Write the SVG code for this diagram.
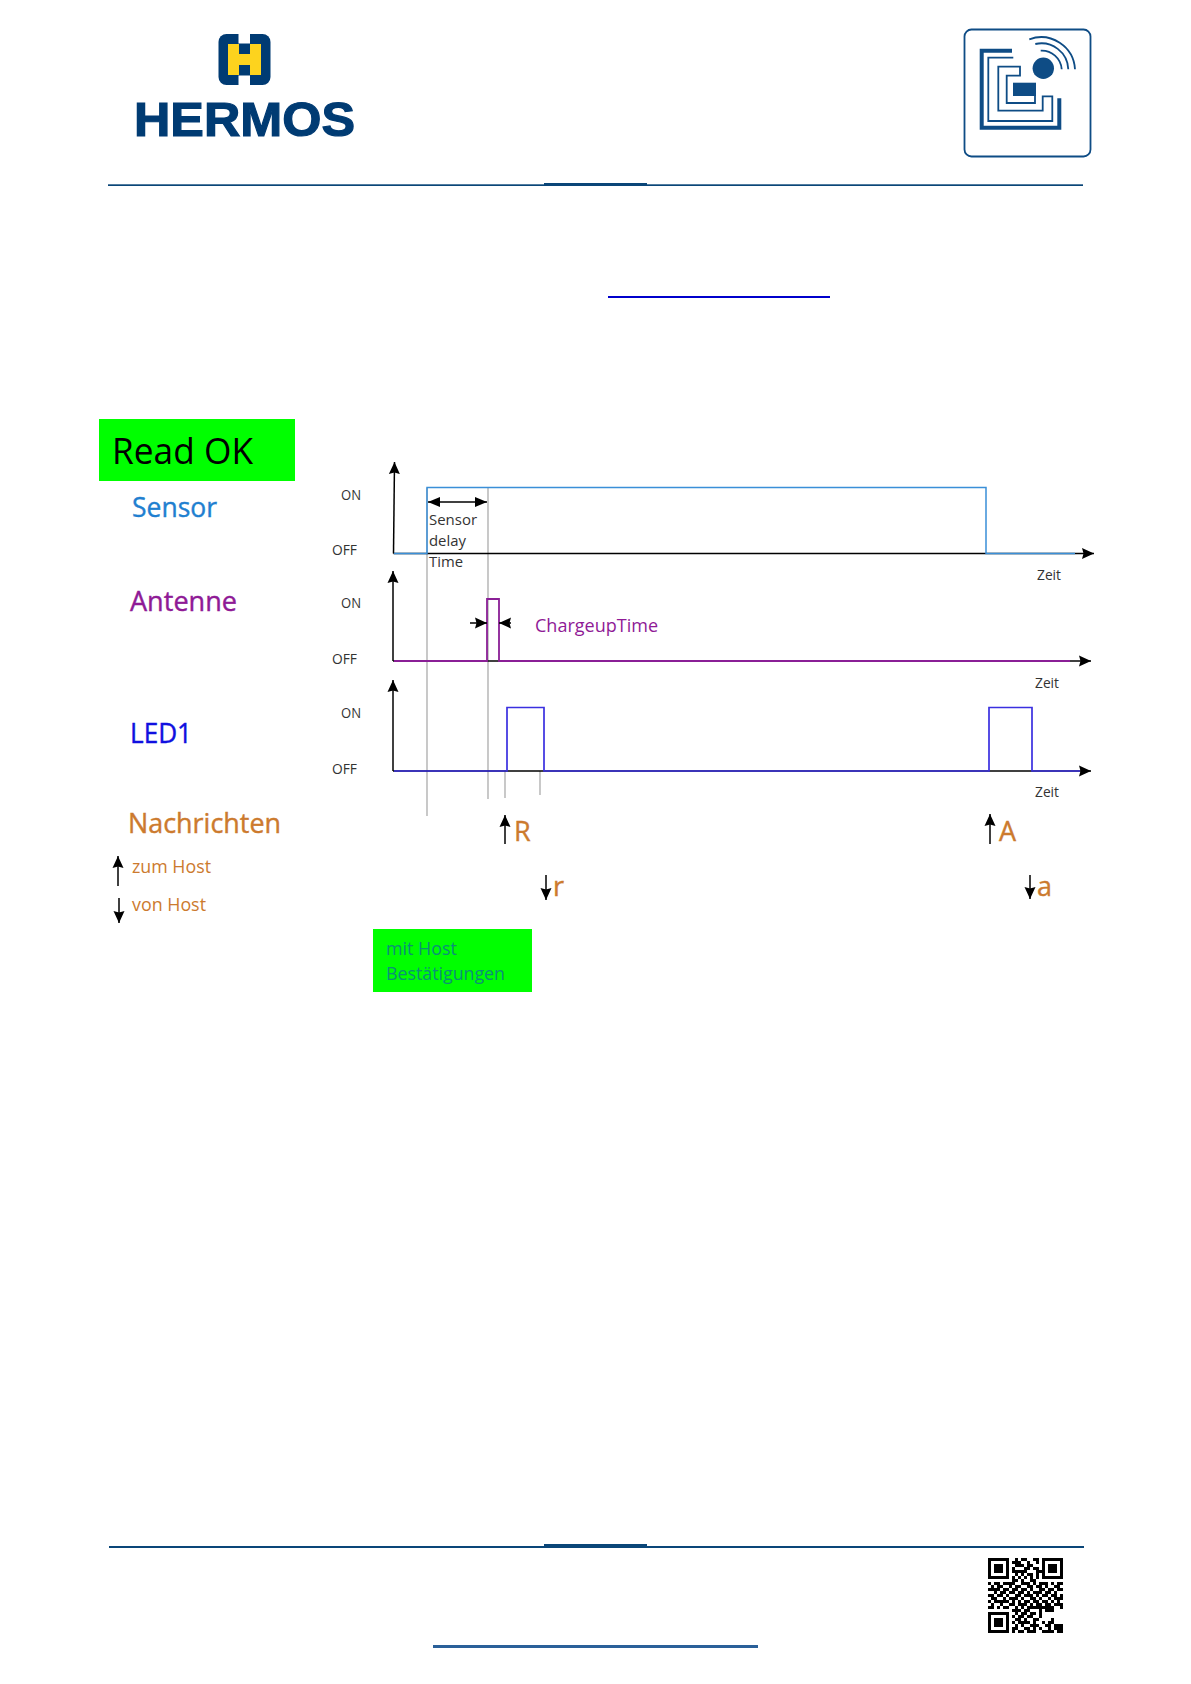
<svg xmlns="http://www.w3.org/2000/svg" width="1191" height="1684" viewBox="0 0 1191 1684">
<defs>
<marker id="ah" markerUnits="userSpaceOnUse" markerWidth="13" markerHeight="12" refX="12" refY="6" orient="auto"><path d="M0 0.500L12 6L0 11.500L1.500 6Z" fill="#000"/></marker>
<marker id="ahs" markerUnits="userSpaceOnUse" markerWidth="13" markerHeight="12" refX="12" refY="6" orient="auto-start-reverse"><path d="M0 1L12 6L0 11Z" fill="#000"/></marker>
</defs>
<style>
text{font-family:"Open Sans","Noto Sans","Liberation Sans",sans-serif}
.sm{font-size:14.500px;fill:#333}
.note{font-size:15px;fill:#333}
.big{font-size:27px;stroke-width:.4;stroke:currentColor}
.or{fill:#cc7a2e;color:#cc7a2e}
.axis{fill:none;stroke:#000;stroke-width:1.500}
.ar{marker-end:url(#ah)}
.gray{stroke:#a5a5a5;stroke-width:1.200;fill:none}
.navy{fill:#003b73}
.icon{fill:none;stroke:#0e4c85}
.rule{fill:#0a4678}
</style>
<rect width="1191" height="1684" fill="#fff"/>

<g id="logo">
<rect x="218.500" y="34" width="52" height="51" rx="8" class="navy"/>
<rect x="238.500" y="34" width="11.500" height="9.500" fill="#fff"/>
<rect x="238.500" y="75.500" width="11.500" height="9.500" fill="#fff"/>
<path d="M228 44H239V54H250V44H261V75H250V65H239V75H228Z" fill="#fdd31e"/>
<text x="134" y="135.500" textLength="221" lengthAdjust="spacingAndGlyphs" style="font-family:'Liberation Sans',sans-serif;font-size:49px;font-weight:700;fill:#003b73;stroke:#003b73;stroke-width:1.200">HERMOS</text>
</g>

<g id="rfid-icon">
<rect x="964.500" y="29.500" width="126" height="127" rx="7" class="icon" stroke-width="1.800"/>
<path d="M1012 50.700H981.700V127.700H1059.300V98.300" class="icon" stroke-width="4"/>
<path d="M1013.300 57.700H988.300V121H1052.300V96.300H1042.700V110.700H998.300V66.700H1020V75.700H1006.700V103H1035V91.700" class="icon" stroke-width="1.800"/>
<rect x="1013" y="82.700" width="23" height="13.300" fill="#0e4c85"/>
<circle cx="1043.300" cy="68.300" r="10.700" fill="#0e4c85"/>
<path d="M1029.300 39.300A34 34 0 0 1 1075 69.300M1035.300 44A27 27 0 0 1 1068.300 69.300M1040.700 50.700A20 20 0 0 1 1061.700 69.300" class="icon" stroke-width="1.800"/>
</g>

<g id="header-rule">
<rect x="108" y="184.300" width="975" height="1.700" class="rule"/>
<rect x="544" y="183" width="103" height="2" class="rule"/>
<rect x="608" y="296" width="222" height="2" fill="#0000cc"/>
</g>

<g id="read-ok">
<rect x="99" y="419" width="196" height="62" fill="#00ff00"/>
<text x="112" y="464" font-size="37" fill="#000" textLength="141" lengthAdjust="spacingAndGlyphs">Read OK</text>
</g>
<g id="label-sensor"><text x="132" y="517" class="big" style="fill:#1f7fd0;color:#1f7fd0" textLength="85" lengthAdjust="spacingAndGlyphs">Sensor</text></g>
<g id="label-antenne"><text x="130" y="611" class="big" style="fill:#8f1a96;color:#8f1a96" textLength="107" lengthAdjust="spacingAndGlyphs">Antenne</text></g>
<g id="label-led1"><text x="130" y="743" class="big" style="fill:#1010e0;color:#1010e0" textLength="62" lengthAdjust="spacingAndGlyphs">LED1</text></g>
<g id="label-nachrichten"><text x="128" y="833" class="big or" textLength="153" lengthAdjust="spacingAndGlyphs">Nachrichten</text></g>
<g id="label-zum-host"><text x="132" y="873" font-size="18" class="or" textLength="79" lengthAdjust="spacingAndGlyphs">zum Host</text></g>
<g id="label-von-host"><text x="132" y="911" font-size="18" class="or" textLength="74" lengthAdjust="spacingAndGlyphs">von Host</text></g>

<g id="axis-labels">
<text x="341" y="500" class="sm" textLength="20" lengthAdjust="spacingAndGlyphs">ON</text>
<text x="332" y="555" class="sm" textLength="25" lengthAdjust="spacingAndGlyphs">OFF</text>
<text x="341" y="608" class="sm" textLength="20" lengthAdjust="spacingAndGlyphs">ON</text>
<text x="332" y="664" class="sm" textLength="25" lengthAdjust="spacingAndGlyphs">OFF</text>
<text x="341" y="718" class="sm" textLength="20" lengthAdjust="spacingAndGlyphs">ON</text>
<text x="332" y="774" class="sm" textLength="25" lengthAdjust="spacingAndGlyphs">OFF</text>
<text x="1037" y="580" class="sm" textLength="24" lengthAdjust="spacingAndGlyphs">Zeit</text>
<text x="1035" y="688" class="sm" textLength="24" lengthAdjust="spacingAndGlyphs">Zeit</text>
<text x="1035" y="797" class="sm" textLength="24" lengthAdjust="spacingAndGlyphs">Zeit</text>
<text x="429" y="525" class="note" textLength="48" lengthAdjust="spacingAndGlyphs">Sensor</text>
<text x="429" y="546" class="note" textLength="37" lengthAdjust="spacingAndGlyphs">delay</text>
<text x="429" y="567" class="note" textLength="34" lengthAdjust="spacingAndGlyphs">Time</text>
<text x="535" y="632" font-size="18" fill="#8f1a96" textLength="123" lengthAdjust="spacingAndGlyphs">ChargeupTime</text>
</g>

<g id="connectors">
<path d="M427 816V488M488 488V799M505 771V798M540 771V795" class="gray"/>
<path d="M393.500 553.500H1094" class="axis ar"/>
<path d="M393.500 553.500L394.500 462" class="axis ar"/>
<path d="M393 661H1091" class="axis ar"/>
<path d="M393 661V571" class="axis ar"/>
<path d="M393 771H1091" class="axis ar"/>
<path d="M393 771V680" class="axis ar"/>
<path d="M394 553.500H427V487.500H986V553.500H1075" fill="none" stroke="#3a8fd8" stroke-width="1.500"/>
<path d="M394 661H487V599H499V661H1070" fill="none" stroke="#8a1f96" stroke-width="1.800"/>
<path d="M394 771H507V707.500H544V771H989V707.500H1032V771H1080" fill="none" stroke="#3a30e0" stroke-width="1.700"/>
<path d="M428 502H487" fill="none" stroke="#000" stroke-width="1.300" marker-start="url(#ahs)" marker-end="url(#ahs)"/>
<path d="M470 623H487" class="axis ar"/>
<path d="M511 623H499" class="axis ar"/>
<path d="M505 844V815" class="axis ar"/>
<path d="M546 875V900" class="axis ar"/>
<path d="M990 844V814" class="axis ar"/>
<path d="M1030 875V899" class="axis ar"/>
<path d="M118 886V856" class="axis ar"/>
<path d="M119 898V923" class="axis ar"/>
</g>

<g id="msg-R"><text x="514" y="841" class="big or">R</text></g>
<g id="msg-r"><text x="553" y="896" class="big or">r</text></g>
<g id="msg-A"><text x="999" y="841" class="big or">A</text></g>
<g id="msg-a"><text x="1037" y="896" class="big or">a</text></g>

<g id="mit-host">
<rect x="373" y="929" width="159" height="63" fill="#00ff00"/>
<text x="386" y="955" font-size="18" fill="#0a9078" textLength="71" lengthAdjust="spacingAndGlyphs">mit Host</text>
<text x="386" y="980" font-size="18" fill="#0a9078" textLength="119" lengthAdjust="spacingAndGlyphs">Bestätigungen</text>
</g>

<g id="footer-rule">
<rect x="109" y="1546" width="975" height="2" class="rule"/>
<rect x="544" y="1544" width="103" height="3" class="rule"/>
<rect x="433" y="1645" width="325" height="3" fill="#2a6099"/>
</g>

<g id="qr" transform="translate(988 1558) scale(3)">
<path fill-rule="evenodd" d="M0 0h7v7h-7zM1 1v5h5v-5zM2 2h3v3h-3zM18 0h7v7h-7zM19 1v5h5v-5zM20 2h3v3h-3zM0 18h7v7h-7zM1 19v5h5v-5zM2 20h3v3h-3z" fill="#000"/>
<path fill="none" stroke="#000" stroke-width="1" d="M9 .5h1M11 .5h2M15 .5h2M8 1.500h3M13 1.500h1M16 1.500h1M9 2.500h3M13 2.500h2M8 3.500h1M12 3.500h2M15 3.500h2M8 4.500h5M16 4.500h2M9 5.500h1M11 5.500h1M13 5.500h2M16 5.500h1M8 6.500h1M10 6.500h1M12 6.500h1M14 6.500h1M16 6.500h1M8 7.500h2M11 7.500h1M14 7.500h2M0 8.500h1M2 8.500h2M5 8.500h2M7 8.500h2M11 8.500h3M15 8.500h1M17 8.500h3M21 8.500h1M23 8.500h2M1 9.500h1M3 9.500h2M7 9.500h1M9 9.500h2M13 9.500h2M16 9.500h2M19 9.500h1M22 9.500h2M0 10.500h4M5 10.500h2M8 10.500h2M11 10.500h2M14 10.500h1M17 10.500h2M20 10.500h2M23 10.500h2M2 11.500h1M4 11.500h2M7 11.500h2M10 11.500h2M13 11.500h1M15 11.500h3M19 11.500h2M22 11.500h1M0 12.500h2M3 12.500h2M6 12.500h1M9 12.500h2M12 12.500h3M16 12.500h1M18 12.500h2M21 12.500h2M24 12.500h1M1 13.500h2M5 13.500h1M7 13.500h3M11 13.500h1M14 13.500h2M17 13.500h1M20 13.500h1M22 13.500h3M0 14.500h1M2 14.500h5M8 14.500h1M10 14.500h1M12 14.500h2M15 14.500h2M18 14.500h2M21 14.500h1M23 14.500h1M1 15.500h1M4 15.500h1M7 15.500h2M10 15.500h3M14 15.500h1M16 15.500h2M19 15.500h2M22 15.500h3M0 16.500h2M3 16.500h1M5 16.500h2M9 16.500h1M11 16.500h1M13 16.500h9M24 16.500h1M8 17.500h3M12 17.500h2M17 17.500h1M19 17.500h3M9 18.500h1M11 18.500h2M14 18.500h2M17 18.500h1M8 19.500h1M10 19.500h2M13 19.500h2M17 19.500h1M9 20.500h2M12 20.500h1M15 20.500h2M8 21.500h1M10 21.500h4M15 21.500h1M9 22.500h1M11 22.500h1M14 22.500h3M8 23.500h2M12 23.500h2M15 23.500h1M17 23.500h1M8 24.500h1M10 24.500h2M13 24.500h3"/>
<path fill="none" stroke="#000" stroke-width="1" d="M21 20.500h1M20 21.500h2M22 22.500h3M20 23.500h1M22 23.500h3M18 24.500h4M23 24.500h2M18 21.500h1M19 22.500h2"/>
</g>
</svg>
